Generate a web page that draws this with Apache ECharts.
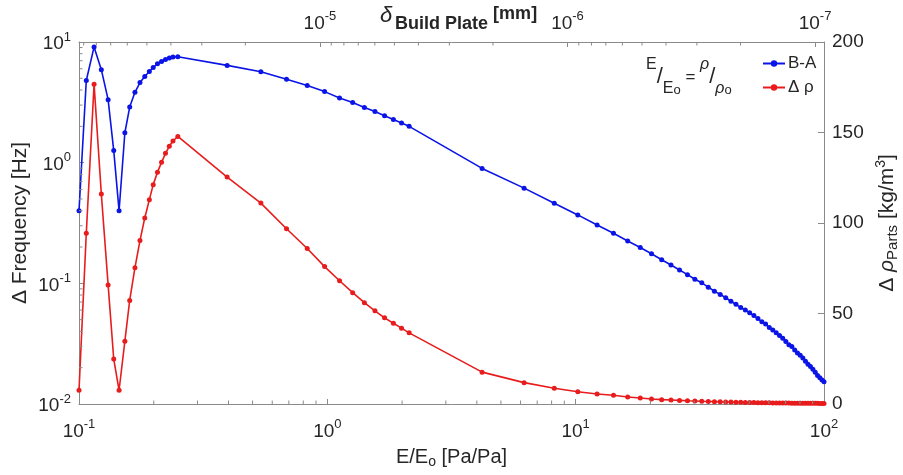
<!DOCTYPE html>
<html><head><meta charset="utf-8">
<script src="https://cdn.jsdelivr.net/npm/echarts@6/dist/echarts.min.js"></script>
<style>html,body{margin:0;padding:0;background:#fff}#c{width:903px;height:475px}</style>
</head><body><div id="c"></div>
<script>
// E/Eo values (x)
const ratio = [0.1, 0.107, 0.115, 0.123, 0.131, 0.138, 0.145, 0.153, 0.160, 0.168, 0.176, 0.184, 0.192, 0.199, 0.207, 0.215, 0.223, 0.231, 0.239, 0.25,
  0.395, 0.54, 0.685, 0.83, 0.975, 1.12, 1.265, 1.41, 1.555, 1.70, 1.845, 1.99, 2.135,
  4.2, 6.2, 8.2, 10.2, 12.2, 14.2, 16.2, 18.2, 20.2, 22.2, 24.2, 26.2, 28.2, 30.2, 32.2, 34.2, 36.2, 38.2, 40.2,
  42.2, 44.2, 46.2, 48.2, 50.2, 52.2, 54.2, 56.2, 58.2, 60.2, 62.2, 64.2, 66.2, 68.2, 70.2, 72.2, 74.2, 76.2,
  78.2, 80.2, 82.2, 84.2, 86.2, 88.2, 90.2, 92.2, 94.2, 96.2, 98.2, 100];
// B-A : Delta Frequency [Hz] (left log axis)
const freqBA = [0.40, 4.8, 9.1, 5.9, 3.33, 1.26, 0.40, 1.77, 2.89, 3.83, 4.61, 5.18, 5.70, 6.15, 6.59, 6.90, 7.17, 7.36, 7.50, 7.54,
  6.4, 5.66, 4.92, 4.36, 3.88, 3.43, 3.15, 2.87, 2.65, 2.45, 2.28, 2.13, 2.0,
  0.896, 0.615, 0.461, 0.369, 0.304, 0.260, 0.224, 0.198, 0.176, 0.157, 0.142, 0.129, 0.118, 0.108, 0.101, 0.093, 0.086, 0.081, 0.076,
  0.071, 0.067, 0.063, 0.060, 0.057, 0.054, 0.051, 0.048, 0.046, 0.043, 0.041, 0.039, 0.037, 0.035, 0.033, 0.031, 0.030, 0.028,
  0.0265, 0.0254, 0.0240, 0.0226, 0.0214, 0.0205, 0.0194, 0.0183, 0.0172, 0.0165, 0.0158, 0.0153];
// Delta rho : Delta rho_Parts [kg/m^3] (right linear axis)
const rhoDelta = [7.6, 94.3, 176.7, 116, 65.8, 24.8, 7.6, 34.7, 57.2, 75.3, 90.3, 102.8, 112.9, 121.2, 128.1, 133.5, 138.5, 142.4, 145.3, 147.8,
  125.4, 111, 96.8, 85.9, 75.9, 68.1, 61.5, 56, 51.5, 47.6, 44.6, 41.9, 39.3,
  17.6, 11.8, 8.7, 6.8, 5.5, 4.8, 3.9, 3.3, 2.8, 2.4, 2.2, 2.0, 1.8, 1.65, 1.5, 1.4, 1.3, 1.2, 1.12,
  1.05, 0.98, 0.92, 0.87, 0.82, 0.78, 0.74, 0.70, 0.67, 0.64, 0.61, 0.58, 0.56, 0.54, 0.52, 0.50, 0.48, 0.46,
  0.45, 0.43, 0.42, 0.40, 0.39, 0.38, 0.37, 0.36, 0.35, 0.34, 0.33, 0.32];

const xRange = [0.1, 100];
const yLeftRange = [0.01, 10];
const yRightRange = [0, 200];
const yRightInterval = 50;
const deltaRange = [9.2e-8, 9.4e-5]; // top axis, delta Build Plate [mm]

const FONT = 'Liberation Sans';
const TXT = '#262626';
const AX = '#8a8a8a';
const BLUE = '#0a14e6';
const RED = '#e81c1c';

function minorTicks(lo, hi, range) {
  const out = [];
  for (let e = lo; e <= hi; e++) for (let m = 2; m <= 9; m++) {
    const v = m * Math.pow(10, e);
    if (v > range[0] * 1.0001 && v < range[1] * 0.9999) out.push(v);
  }
  return out;
}
const xMinor = minorTicks(-1, 1, xRange);
const yMinor = minorTicks(-2, 0, yLeftRange);
const dMinor = minorTicks(-8, -5, deltaRange);

function powLabel(v) {
  const l = Math.log10(v);
  const e = Math.round(l);
  if (Math.abs(l - e) > 1e-6) return '';
  return '{b|10}{s|' + e + '}';
}
const powRich = {
  b: { fontSize: 19, fontFamily: FONT, color: TXT, verticalAlign: 'bottom', lineHeight: 23 },
  s: { fontSize: 13, fontFamily: FONT, color: TXT, verticalAlign: 'top', lineHeight: 13 }
};

function tickSeries(xIdx, yIdx, data, dx, dy) {
  return {
    type: 'custom', xAxisIndex: xIdx, yAxisIndex: yIdx, silent: true, clip: false, z: 5,
    data: data,
    renderItem: function (params, api) {
      const p = api.coord([api.value(0), api.value(1)]);
      return { type: 'line', shape: { x1: p[0], y1: p[1], x2: p[0] + dx, y2: p[1] + dy },
        style: { stroke: AX, lineWidth: 1 } };
    }
  };
}

const chart = echarts.init(document.getElementById('c'), null, { renderer: 'canvas' });
chart.setOption({
  animation: false,
  backgroundColor: '#fff',
  grid: { left: 79, right: 79, top: 42, bottom: 71, containLabel: false, outerBoundsMode: 'none' },
  legend: {
    data: ['B-A', 'Δ ρ'], orient: 'vertical', left: 757, top: 50, itemGap: 7,
    itemWidth: 22, itemHeight: 8,
    textStyle: { fontSize: 17, fontFamily: FONT, color: TXT, padding: [0, 0, 0, -2] }
  },
  xAxis: [{
    type: 'log', logBase: 10, min: xRange[0], max: xRange[1], position: 'bottom',
    name: '{n|E/E}{sub|o}{n| [Pa/Pa]}', nameLocation: 'middle', nameGap: 43, nameMoveOverlap: false,
    nameTextStyle: { rich: {
      n: { fontSize: 20, fontFamily: FONT, color: TXT, verticalAlign: 'top', lineHeight: 22 },
      sub: { fontSize: 14, fontFamily: FONT, color: TXT, verticalAlign: 'bottom', lineHeight: 14 } } },
    axisLine: { show: true, lineStyle: { color: AX, width: 1 } },
    axisTick: { show: true, inside: true, length: 5, lineStyle: { color: AX } },
    axisLabel: { formatter: powLabel, rich: powRich, margin: 14 },
    splitLine: { show: false }, minorTick: { show: false }
  }, {
    type: 'log', logBase: 10, min: deltaRange[0], max: deltaRange[1], position: 'top', inverse: true,
    name: '{i|δ}{sb|Build Plate}{bb| [mm]}', nameLocation: 'middle', nameGap: 9, nameMoveOverlap: false,
    nameTextStyle: { padding: [0, 0, 0, 14], rich: {
      i: { fontSize: 22, fontFamily: FONT, fontStyle: 'italic', color: TXT, verticalAlign: 'top', lineHeight: 28, padding: [0, 3, 0, 0] },
      sb: { fontSize: 18, fontFamily: FONT, fontWeight: 'bold', color: TXT, verticalAlign: 'bottom', lineHeight: 18 },
      bb: { fontSize: 18, fontFamily: FONT, fontWeight: 'bold', color: TXT, verticalAlign: 'top', lineHeight: 18 } } },
    axisLine: { show: true, lineStyle: { color: AX, width: 1 } },
    axisTick: { show: true, inside: true, length: 5, lineStyle: { color: AX } },
    axisLabel: { formatter: powLabel, rich: powRich, margin: 9 },
    splitLine: { show: false }
  }],
  yAxis: [{
    type: 'log', logBase: 10, min: yLeftRange[0], max: yLeftRange[1], position: 'left',
    name: 'Δ Frequency [Hz]', nameLocation: 'middle', nameGap: 48, nameMoveOverlap: false,
    nameTextStyle: { fontSize: 21, fontFamily: FONT, color: TXT },
    axisLine: { show: true, lineStyle: { color: AX, width: 1 } },
    axisTick: { show: true, inside: true, length: 5, lineStyle: { color: AX } },
    axisLabel: { formatter: powLabel, rich: powRich, margin: 8 },
    splitLine: { show: false }
  }, {
    type: 'value', min: yRightRange[0], max: yRightRange[1], interval: yRightInterval, position: 'right',
    name: '{n|Δ }{i|ρ}{sub|Parts}{n| [kg/m}{sup|3}{n|]}', nameLocation: 'middle', nameGap: 50, nameMoveOverlap: false,
    nameTextStyle: { rich: {
      n: { fontSize: 21, fontFamily: FONT, color: TXT, verticalAlign: 'middle', lineHeight: 26 },
      i: { fontSize: 21, fontFamily: FONT, fontStyle: 'italic', color: TXT, verticalAlign: 'middle', lineHeight: 26 },
      sub: { fontSize: 15, fontFamily: FONT, color: TXT, verticalAlign: 'bottom', lineHeight: 15 },
      sup: { fontSize: 14, fontFamily: FONT, color: TXT, verticalAlign: 'top', lineHeight: 14 } } },
    axisLine: { show: true, lineStyle: { color: AX, width: 1 } },
    axisTick: { show: true, inside: true, length: 6, lineStyle: { color: AX } },
    axisLabel: { fontSize: 19, fontFamily: FONT, color: TXT, margin: 8 },
    splitLine: { show: false }
  }],
  graphic: [{
    type: 'text', left: 646, top: 57, silent: true,
    style: {
      text: '{u|E}{sl|/}{d|E}{ds|o}{eq| = }{ui|ρ}{sl|/}{di|ρ}{ds|o}',
      rich: {
        u: { fontSize: 16, fontFamily: FONT, fill: TXT, verticalAlign: 'top', lineHeight: 16 },
        ui: { fontSize: 16, fontFamily: FONT, fontStyle: 'italic', fill: TXT, verticalAlign: 'top', lineHeight: 16 },
        sl: { fontSize: 22, fontFamily: FONT, fill: TXT, verticalAlign: 'middle', lineHeight: 40 },
        d: { fontSize: 16, fontFamily: FONT, fill: TXT, verticalAlign: 'bottom', lineHeight: 26 },
        di: { fontSize: 16, fontFamily: FONT, fontStyle: 'italic', fill: TXT, verticalAlign: 'bottom', lineHeight: 26 },
        ds: { fontSize: 13, fontFamily: FONT, fill: TXT, verticalAlign: 'bottom', lineHeight: 13 },
        eq: { fontSize: 17, fontFamily: FONT, fill: TXT, verticalAlign: 'middle', lineHeight: 34 }
      }
    }
  }],
  series: [
    {
      name: 'B-A', type: 'line', xAxisIndex: 0, yAxisIndex: 0,
      data: ratio.map((x, i) => [x, freqBA[i]]),
      symbol: 'circle', symbolSize: 5, showSymbol: true,
      itemStyle: { color: BLUE }, lineStyle: { color: BLUE, width: 1.6 }, z: 3
    },
    {
      name: 'Δ ρ', type: 'line', xAxisIndex: 0, yAxisIndex: 1,
      data: ratio.map((x, i) => [x, rhoDelta[i]]),
      symbol: 'circle', symbolSize: 5, showSymbol: true,
      itemStyle: { color: RED }, lineStyle: { color: RED, width: 1.6 }, z: 3
    },
    tickSeries(0, 0, xMinor.map(v => [v, yLeftRange[0]]), 0, -3.5),
    tickSeries(0, 0, yMinor.map(v => [xRange[0], v]), 3.5, 0),
    tickSeries(1, 0, dMinor.map(v => [v, yLeftRange[1]]), 0, 3.5)
  ]
});
</script></body></html>
